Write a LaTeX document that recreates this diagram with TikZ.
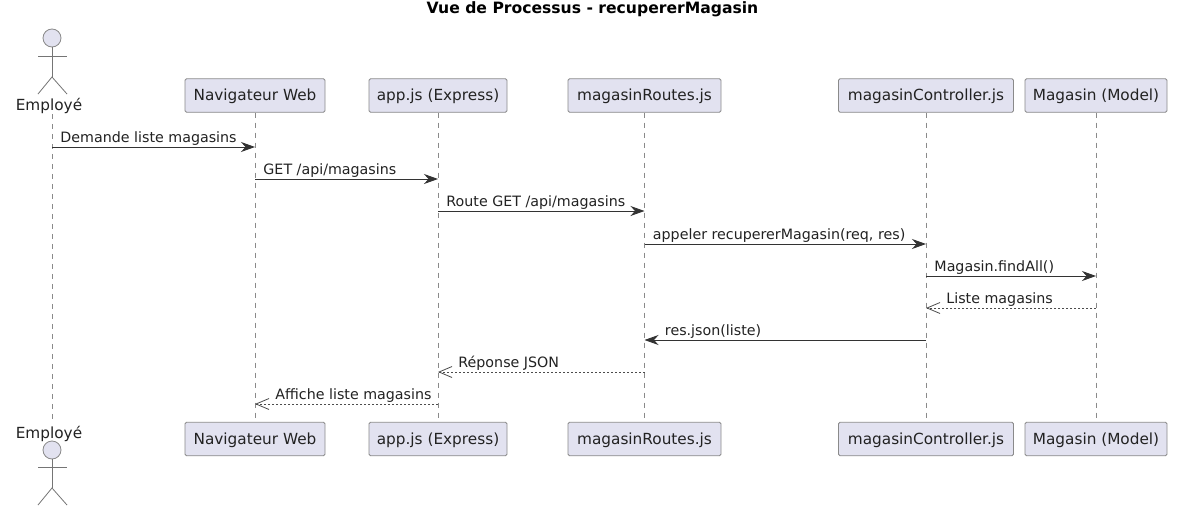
\documentclass[tikz,border=0pt]{standalone}
\usepackage{fontspec}
\setmainfont{DejaVu Sans}
\usetikzlibrary{arrows.meta}
\definecolor{partfill}{HTML}{E2E2F0}
\definecolor{partline}{HTML}{8A8A8A}
\definecolor{txt}{HTML}{222222}
\begin{document}
\begin{tikzpicture}[x=1pt, y=-1pt, font=\fontsize{15.3}{17}\selectfont, text=txt,
    part/.style ={draw=partline, fill=partfill, rounded corners=1.5pt, minimum height=33.5pt, inner sep=0pt, text height=12pt, text depth=2pt, line width=.8pt},
    life/.style ={draw=partline, dashed, dash pattern=on 5pt off 5pt, line width=.8pt},
    actorline/.style ={draw=partline!85!black, line width=.8pt},
    msg/.style ={draw=black!80, line width=.9pt, -{Stealth[length=14pt, width=10pt, inset=4.5pt]}},
    reply/.style ={draw=black!70, line width=.8pt, dash pattern=on 2pt off 2pt, -{Straight Barb[length=13pt, width=11pt]}},
    lbl/.style ={inner sep=0pt, anchor=base west, font=\fontsize{14.25}{16}\selectfont}]
    \useasboundingbox (0,0) rectangle (1180,514);
    \fill[white] (0,0) rectangle (1180,514);
    \node[font=\fontsize{15.6}{18}\selectfont\bfseries, text=black] (title) at (592.5,9) {Vue de Processus - recupererMagasin};

    % participants, top and bottom
    \node[part, minimum width=140pt] (navT) at (255,95.5) {Navigateur Web};
    \node[part, minimum width=138pt] (appT) at (438,95.5) {app.js (Express)};
    \node[part, minimum width=153pt] (rouT) at (644.5,95.5) {magasinRoutes.js};
    \node[part, minimum width=175pt] (conT) at (926,95.5) {magasinController.js};
    \node[part, minimum width=142pt] (modT) at (1096,95.5) {Magasin (Model)};
    \node[part, minimum width=140pt] (navB) at (255,439) {Navigateur Web};
    \node[part, minimum width=138pt] (appB) at (438,439) {app.js (Express)};
    \node[part, minimum width=153pt] (rouB) at (644.5,439) {magasinRoutes.js};
    \node[part, minimum width=175pt] (conB) at (926,439) {magasinController.js};
    \node[part, minimum width=142pt] (modB) at (1096,439) {Magasin (Model)};

    % actor, top
    \node[draw=partline, fill=partfill, circle, minimum size=18pt, inner sep=0pt, line width=.8pt] (headT) at (52,38) {};
    \coordinate (hipT) at (52,77);
    \coordinate (armLT) at (38,56);
    \coordinate (armRT) at (67,56);
    \coordinate (legLT) at (38,94);
    \coordinate (legRT) at (67,94);
    \node (empT) at (49,106) {Employé};
    \draw[actorline] (headT) -- (hipT);
    \draw[actorline] (armLT) -- (armRT);
    \draw[actorline] (legLT) -- (hipT) -- (legRT);

    % actor, bottom
    \node (empB) at (49,433.5) {Employé};
    \node[draw=partline, fill=partfill, circle, minimum size=18pt, inner sep=0pt, line width=.8pt] (headB) at (52,450) {};
    \coordinate (hipB) at (52,488);
    \coordinate (armLB) at (38,467);
    \coordinate (armRB) at (67,467);
    \coordinate (legLB) at (38,505);
    \coordinate (legRB) at (67,505);
    \draw[actorline] (headB) -- (hipB);
    \draw[actorline] (armLB) -- (armRB);
    \draw[actorline] (legLB) -- (hipB) -- (legRB);

    % lifelines
    \coordinate (lifeT) at (52,114);
    \coordinate (lifeB) at (52,422);
    \draw[life] (lifeT) -- (lifeB);
    \draw[life] (navT) -- (navB);
    \draw[life] (appT) -- (appB);
    \draw[life] (rouT) -- (rouB);
    \draw[life] (conT) -- (conB);
    \draw[life] (modT) -- (modB);

    % message rows
    \coordinate (m1) at (0,147);
    \coordinate (m2) at (0,179);
    \coordinate (m3) at (0,211);
    \coordinate (m4) at (0,244);
    \coordinate (m5) at (0,276);
    \coordinate (m6) at (0,308);
    \coordinate (m7) at (0,340);
    \coordinate (m8) at (0,372);
    \coordinate (m9) at (0,404);

    \draw[msg] (lifeT |- m1) -- (navT |- m1) node[lbl, pos=0, xshift=8pt, yshift=5pt] (t1) {Demande liste magasins};
    \draw[msg] (navT |- m2) -- (appT |- m2) node[lbl, pos=0, xshift=8pt, yshift=5pt] (t2) {GET /api/magasins};
    \draw[msg] (appT |- m3) -- (rouT |- m3) node[lbl, pos=0, xshift=8pt, yshift=5pt] (t3) {Route GET /api/magasins};
    \draw[msg] (rouT |- m4) -- (conT |- m4) node[lbl, pos=0, xshift=8pt, yshift=5pt] (t4) {appeler recupererMagasin(req, res)};
    \draw[msg] (conT |- m5) -- (modT |- m5) node[lbl, pos=0, xshift=8pt, yshift=5pt] (t5) {Magasin.findAll()};
    \draw[reply] (modT |- m6) -- (conT |- m6) node[lbl, pos=1, xshift=20pt, yshift=5pt] (t6) {Liste magasins};
    \draw[msg] (conT |- m7) -- (rouT |- m7) node[lbl, pos=1, xshift=20pt, yshift=5pt] (t7) {res.json(liste)};
    \draw[reply] (rouT |- m8) -- (appT |- m8) node[lbl, pos=1, xshift=20pt, yshift=5pt] (t8) {Réponse JSON};
    \draw[reply] (appT |- m9) -- (navT |- m9) node[lbl, pos=1, xshift=20pt, yshift=5pt] (t9) {Affiche liste magasins};
\end{tikzpicture}
\end{document}
